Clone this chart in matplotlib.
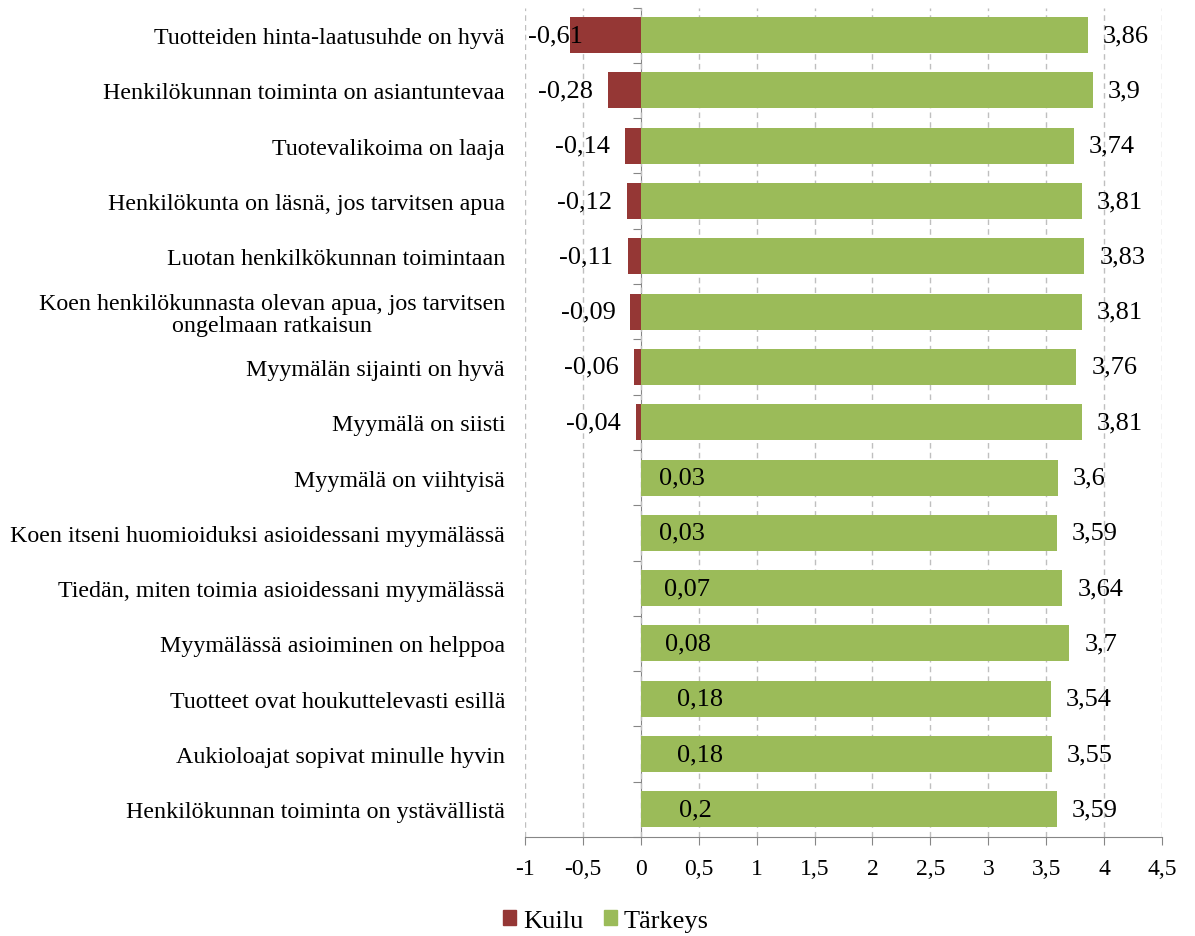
import matplotlib
matplotlib.use("Agg")
import matplotlib.pyplot as plt
from matplotlib.patches import Patch
import numpy as np

plt.rcParams['font.family'] = ['Liberation Serif', 'DejaVu Serif']

categories = [
    "Tuotteiden hinta-laatusuhde on hyvä",
    "Henkilökunnan toiminta on asiantuntevaa",
    "Tuotevalikoima on laaja",
    "Henkilökunta on läsnä, jos tarvitsen apua",
    "Luotan henkilkökunnan toimintaan",
    "Koen henkilökunnasta olevan apua, jos tarvitsen\nongelmaan ratkaisun",
    "Myymälän sijainti on hyvä",
    "Myymälä on siisti",
    "Myymälä on viihtyisä",
    "Koen itseni huomioiduksi asioidessani myymälässä",
    "Tiedän, miten toimia asioidessani myymälässä",
    "Myymälässä asioiminen on helppoa",
    "Tuotteet ovat houkuttelevasti esillä",
    "Aukioloajat sopivat minulle hyvin",
    "Henkilökunnan toiminta on ystävällistä",
]
kuilu = [-0.61, -0.28, -0.14, -0.12, -0.11, -0.09, -0.06, -0.04,
         0.03, 0.03, 0.07, 0.08, 0.18, 0.18, 0.2]
tarkeys = [3.86, 3.9, 3.74, 3.81, 3.83, 3.81, 3.76, 3.81,
           3.6, 3.59, 3.64, 3.7, 3.54, 3.55, 3.59]
xticks = [-1, -0.5, 0, 0.5, 1, 1.5, 2, 2.5, 3, 3.5, 4, 4.5]
xticklabels = ["-1", "-0,5", "0", "0,5", "1", "1,5", "2", "2,5", "3", "3,5", "4", "4,5"]

RED = "#953735"
GREEN = "#9BBB59"
AXIS = "#868686"
GRID = "#BFBFBF"

def fmt(v):
    s = f"{v:.2f}".rstrip("0").rstrip(".")
    return s.replace(".", ",")

W, H = 1195, 937
fig = plt.figure(figsize=(W / 100, H / 100), dpi=100)
ax = fig.add_axes([525 / W, (H - 838) / H, (1162 - 525) / W, (838 - 8.5) / H])

y = np.arange(len(categories))
bh = 0.65
ax.barh(y, kuilu, height=bh, color=RED, zorder=2, label="Kuilu")
ax.barh(y, tarkeys, height=bh, color=GREEN, zorder=3, label="Tärkeys")

ax.set_xlim(-1, 4.5)
ax.set_ylim(len(categories) - 0.5, -0.5)

ax.set_xticks(xticks)
ax.set_xticklabels(xticklabels, fontsize=17)
ax.tick_params(axis='x', direction='out', length=6, color=AXIS, pad=9)
ax.xaxis.grid(True, linestyle=(0, (4, 3)), color=GRID, linewidth=1)
ax.set_axisbelow(True)

ax.set_yticks(y)
ax.set_yticklabels(categories, fontsize=17.3, multialignment='center', linespacing=1.05)
ax.tick_params(axis='y', length=0, pad=14.4)

for s in ['top', 'right', 'left']:
    ax.spines[s].set_visible(False)
ax.spines['bottom'].set_color(AXIS)

# vertical category axis at x = 0
pos0 = (0 - (-1)) / 5.5
sec = ax.secondary_yaxis(pos0)
sec.set_yticks(np.arange(len(categories) + 1) - 0.5)
sec.set_yticklabels([])
sec.tick_params(axis='y', direction='out', length=6, color=AXIS)
sec.spines['left'].set_color(AXIS)
sec.spines['left'].set_zorder(5)

texts = []
for i, v in enumerate(kuilu):
    off = 15 if v >= 0 else -15
    t = ax.annotate(fmt(v), (v, i), xytext=(off, 0), textcoords='offset pixels',
                    ha='left' if v >= 0 else 'right', va='center', fontsize=19, zorder=6)
    texts.append(t)
for i, v in enumerate(tarkeys):
    ax.annotate(fmt(v), (v, i), xytext=(15, 0), textcoords='offset pixels',
                ha='left', va='center', fontsize=19, zorder=6)

fig.canvas.draw()
r = fig.canvas.get_renderer()
axbb = ax.get_window_extent(r)
for t in texts:
    bb = t.get_window_extent(r)
    if bb.x0 < axbb.x0 + 3:
        dx = axbb.x0 + 3 - bb.x0
        xt = t.xyann
        t.xyann = (xt[0] + dx, xt[1])

handles = [Patch(color=RED), Patch(color=GREEN)]
fig.legend(handles, ["Kuilu", "Tärkeys"], loc='center', bbox_to_anchor=(606 / W, 1 - 922 / H),
           ncol=2, frameon=False, fontsize=19, handlelength=0.5, handleheight=0.5,
           handletextpad=0.25, columnspacing=0.8)

fig.savefig("out.png", dpi=100)
